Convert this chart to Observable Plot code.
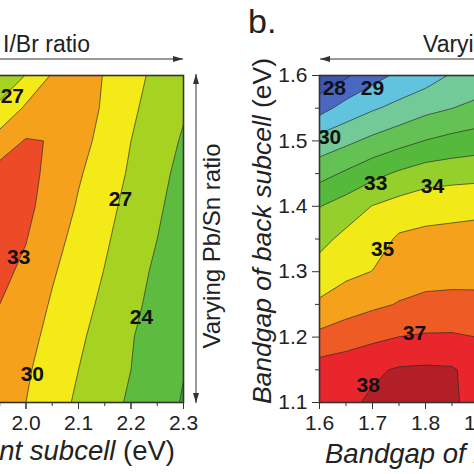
<!DOCTYPE html>
<html><head><meta charset="utf-8">
<script src="https://cdn.jsdelivr.net/npm/d3@7"></script>
<script src="https://cdn.jsdelivr.net/npm/@observablehq/plot@0.6"></script>
<style>
html,body{margin:0;padding:0;background:#fff;}
#fig{position:relative;width:474px;height:474px;overflow:hidden;background:#fff;font-family:"Liberation Sans",Arial,Helvetica,sans-serif;color:#222;}
#left{position:absolute;top:0;left:-67px;width:270px;}
#right{position:absolute;top:0;left:259px;width:229px;}
#overlay{position:absolute;left:0;top:0;overflow:visible;}
</style></head><body>
<div id="fig">
<div id="left"></div>
<div id="right"></div>
<svg id="overlay" width="474" height="474" font-family="'Liberation Sans', Arial, sans-serif" fill="#222">
<defs>
<marker id="ah" viewBox="0 0 10 6" refX="10" refY="3" markerWidth="10" markerHeight="6" markerUnits="userSpaceOnUse" orient="auto-start-reverse"><path d="M0,0L10,3L0,6Z" fill="#333"/></marker>
</defs>
<text x="90" y="52" font-size="23" text-anchor="end">Varying I/Br ratio</text>
<line x1="-40" y1="59" x2="183" y2="59" stroke="#333" stroke-width="1" marker-end="url(#ah)"/>
<line x1="196" y1="74" x2="196" y2="403" stroke="#333" stroke-width="1" marker-start="url(#ah)" marker-end="url(#ah)"/>
<text transform="translate(220,246) rotate(-90)" font-size="24" text-anchor="middle">Varying Pb/Sn ratio</text>
<text x="248" y="33" font-size="34">b.</text>
<text x="423" y="52" font-size="23">Varying I/Br ratio</text>
<line x1="320" y1="59" x2="520" y2="59" stroke="#333" stroke-width="1" marker-start="url(#ah)"/>
<text transform="translate(271,231) rotate(-90)" font-size="26.5" text-anchor="middle"><tspan font-style="italic">Bandgap of back subcell </tspan>(eV)</text>
<text x="175" y="460" font-size="27.5" text-anchor="end"><tspan font-style="italic">Bandgap of front subcell </tspan>(eV)</text>
<text x="325" y="463" font-size="27.5"><tspan font-style="italic">Bandgap of middle subcell </tspan>(eV)</text>
</svg>
</div>
<script>
// ---------- Panel a (partial): front-subcell bandgap vs back-subcell bandgap, efficiency (%) ----------
const leftGridX = [1.95, 2.00, 2.05, 2.10, 2.15, 2.20, 2.25, 2.30];
const leftGridY = [1.60, 1.55, 1.50, 1.45, 1.40, 1.35, 1.30, 1.25, 1.20, 1.15, 1.10];
const leftEff = [
  [26.0, 27.05, 30.3, 31.0, 29.9, 28.1, 26.2, 24.8],
  [27.3, 30.5, 32.2, 31.5, 29.6, 27.5, 25.8, 24.3],
  [31.5, 33.2, 32.9, 31.0, 29.1, 27.0, 25.3, 23.7],
  [34.0, 33.8, 32.3, 30.3, 28.5, 26.6, 24.8, 23.2],
  [34.2, 33.6, 31.9, 29.7, 27.9, 26.1, 24.4, 22.8],
  [34.0, 33.1, 31.0, 29.1, 27.4, 25.6, 24.0, 22.4],
  [33.6, 32.5, 30.3, 28.6, 26.9, 25.1, 23.5, 22.0],
  [33.0, 31.6, 29.7, 28.0, 26.4, 24.7, 23.1, 21.6],
  [32.2, 30.9, 29.2, 27.5, 25.8, 24.2, 22.6, 21.2],
  [31.8, 30.4, 28.6, 27.0, 25.4, 24.0, 22.4, 21.1],
  [31.3, 30.0, 28.3, 26.5, 25.0, 23.6, 22.1, 20.8]
];
const leftThresholds = [15, 21, 24, 27, 30, 33];
const leftColors = ["#3fa63c", "#5dbb40", "#a6d322", "#f3ea17", "#f6a11b", "#ed4b27"];
const leftLabelX = [1.974, 2.180, 1.986, 2.220, 2.012];
const leftLabelY = [1.569, 1.410, 1.322, 1.230, 1.143];
const leftLabelText = ["27", "27", "33", "24", "30"];
const leftTickMarksX = [1.9, 2.0, 2.1, 2.2, 2.3];
const leftTickLabelsX = [2.0, 2.1, 2.2, 2.3];
const leftMinorX = [1.95, 2.05, 2.15, 2.25];

// ---------- Panel b ----------
const rightGridX = [1.60, 1.65, 1.70, 1.75, 1.80, 1.85, 1.90];
const rightGridY = [1.60, 1.55, 1.50, 1.45, 1.40, 1.35, 1.30, 1.25, 1.20, 1.15, 1.10];
const rightEff = [
  [27.2, 27.85, 28.64, 29.2, 29.54, 30.1, 30.4],
  [28.61, 29.40, 29.89, 30.28, 30.71, 30.99, 31.26],
  [30.39, 30.78, 31.24, 31.65, 32.03, 32.30, 32.49],
  [31.63, 32.15, 32.70, 33.15, 33.50, 33.62, 33.68],
  [32.97, 33.46, 34.03, 34.38, 34.61, 34.70, 34.78],
  [33.70, 34.27, 34.52, 35.14, 35.25, 35.29, 35.32],
  [34.40, 34.78, 35.02, 35.58, 35.67, 35.70, 35.72],
  [35.15, 35.53, 35.82, 36.05, 36.21, 36.25, 36.22],
  [36.27, 36.57, 36.79, 37.01, 37.11, 37.12, 36.99],
  [37.45, 37.55, 37.85, 38.10, 38.15, 38.10, 37.60],
  [37.70, 37.80, 38.15, 38.50, 38.45, 38.10, 37.75]
];
const rightThresholds = [20, 28, 29, 30, 31, 32, 33, 34, 35, 36, 37, 38];
const rightColors = ["#3d56b2", "#4a68c2", "#62c3de", "#72ca98", "#64c153", "#55b93c", "#95cf2c", "#f2ea18", "#f6a11c", "#ef5b25", "#e8262b", "#b31f27"];
const rightLabelX = [1.628, 1.700, 1.619, 1.706, 1.813, 1.719, 1.779, 1.692];
const rightLabelY = [1.580, 1.580, 1.505, 1.435, 1.430, 1.335, 1.206, 1.126];
const rightLabelText = ["28", "29", "30", "33", "34", "35", "37", "38"];
const rightTicksX = [1.6, 1.7, 1.8, 1.9];
const rightMinorX = [1.65, 1.75, 1.85];
const rightTicksY = [1.1, 1.2, 1.3, 1.4, 1.5, 1.6];
const rightMinorY = [1.15, 1.25, 1.35, 1.45, 1.55];

const ink = "#333";
const baseStyle = {fontFamily: '"Liberation Sans", Arial, sans-serif', fontSize: "21px", color: "#222", background: "transparent", overflow: "visible"};

function gridBounds(gx, gy) {
  const hx = (gx[1] - gx[0]) / 2, hy = (gy[0] - gy[1]) / 2;
  return {x1: gx[0] - hx, x2: gx[gx.length - 1] + hx, y1: gy[0] + hy, y2: gy[gy.length - 1] - hy,
          width: gx.length, height: gy.length};
}
function labelsOf(xs, ys, ts) { return ts.map((t, i) => ({t, x: xs[i], y: ys[i]})); }

function panel({gx, gy, rows, thresholds, colors, labels, xDomain, width, marginLeft, marginRight, marks}) {
  const b = gridBounds(gx, gy);
  return Plot.plot({
    width, height: 474, marginTop: 75, marginBottom: 72, marginLeft, marginRight,
    style: baseStyle,
    x: {domain: xDomain, label: null},
    y: {domain: [1.1, 1.6], label: null, axis: null},
    color: {type: "ordinal", domain: thresholds, range: colors},
    marks: [
      Plot.frame({fill: colors[0]}),
      Plot.contour(rows.flat(), {...b, thresholds, fill: Plot.identity, stroke: "#2a2a2a", strokeWidth: 0.75, strokeOpacity: 0.9, clip: true}),
      Plot.text(labels, {x: "x", y: "y", text: "t", fontSize: 21, fontWeight: "bold", fill: "#111", clip: true}),
      ...marks,
      Plot.frame({stroke: ink, strokeWidth: 1.6})
    ]
  });
}

const left = panel({
  gx: leftGridX, gy: leftGridY, rows: leftEff, thresholds: leftThresholds, colors: leftColors,
  labels: labelsOf(leftLabelX, leftLabelY, leftLabelText),
  xDomain: [1.9, 2.3], width: 270, marginLeft: 40, marginRight: 20,
  marks: [
    Plot.axisX(leftTickMarksX, {tickSize: 7, tickFormat: () => "", label: null, stroke: ink}),
    Plot.axisX(leftTickLabelsX, {tickSize: 7, tickPadding: 6, tickFormat: d3.format(".1f"), label: null, stroke: ink}),
    Plot.axisX(leftMinorX, {tickSize: 4, tickFormat: () => "", label: null, stroke: ink})
  ]
});
document.getElementById("left").append(left);

const right = panel({
  gx: rightGridX, gy: rightGridY, rows: rightEff, thresholds: rightThresholds, colors: rightColors,
  labels: labelsOf(rightLabelX, rightLabelY, rightLabelText),
  xDomain: [1.6, 1.9], width: 229, marginLeft: 60, marginRight: 10,
  marks: [
    Plot.axisX({ticks: rightTicksX, tickFormat: ".1f", tickSize: 7, tickPadding: 6, label: null, stroke: ink}),
    Plot.axisX(rightMinorX, {tickSize: 4, tickFormat: () => "", label: null, stroke: ink}),
    Plot.axisY({ticks: rightTicksY, tickFormat: ".1f", tickSize: 7, tickPadding: 5, label: null, stroke: ink}),
    Plot.axisY(rightMinorY, {tickSize: 4, tickFormat: () => "", label: null, stroke: ink})
  ]
});
document.getElementById("right").append(right);
</script>
</body></html>
